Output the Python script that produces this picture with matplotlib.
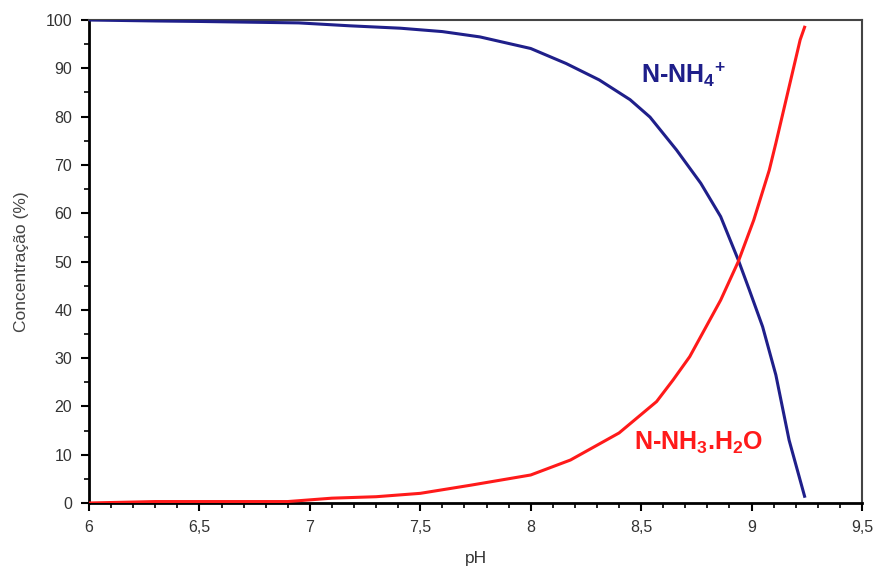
import matplotlib
matplotlib.use("Agg")
import matplotlib.pyplot as plt
from matplotlib.ticker import MultipleLocator, FuncFormatter

# values (pH, % of total ammonia nitrogen)
ph_nh4 = [6.0, 6.3, 6.5, 6.95, 7.18, 7.41, 7.60, 7.77, 8.0, 8.16, 8.31, 8.45,
          8.54, 8.66, 8.77, 8.86, 8.94, 8.99, 9.05, 9.11, 9.17, 9.24]
nh4 = [100, 99.8, 99.7, 99.4, 98.8, 98.3, 97.6, 96.5, 94.1, 91.0, 87.6, 83.5,
       79.9, 73.1, 66.2, 59.3, 50.3, 44.1, 36.5, 26.5, 13.0, 1.4]

ph_nh3 = [6.0, 6.3, 6.9, 7.1, 7.3, 7.5, 7.73, 8.0, 8.18, 8.40, 8.57, 8.645,
          8.72, 8.86, 8.94, 9.01, 9.08, 9.11, 9.22, 9.24]
nh3 = [0, 0.3, 0.3, 1.0, 1.3, 2.0, 3.7, 5.8, 8.9, 14.5, 21.0, 25.5,
       30.3, 42.0, 50.0, 58.6, 68.9, 74.5, 95.9, 98.5]

label_nh4 = "N-NH$_4{}^{+}$"
label_nh3 = "N-NH$_3$.H$_2$O"

plt.rcParams["font.family"] = ["Liberation Sans", "DejaVu Sans"]
plt.rcParams["mathtext.fontset"] = "custom"
plt.rcParams["mathtext.rm"] = "Liberation Sans:bold"
plt.rcParams["mathtext.it"] = "Liberation Sans:bold"
plt.rcParams["mathtext.bf"] = "Liberation Sans:bold"

fig = plt.figure(figsize=(8.75, 5.76), dpi=100)
ax = fig.add_axes([89 / 875, 1 - 503 / 576, (862 - 89) / 875, (503 - 20) / 576])

blue = "#1f1f8a"
red = "#ff1a1a"
ax.plot(ph_nh4, nh4, color=blue, lw=2.2, zorder=3)
ax.plot(ph_nh3, nh3, color=red, lw=2.2, zorder=3)

ax.text(8.69, 88.6, label_nh4, color=blue, fontsize=18, fontweight="bold",
        ha="center", va="center")
ax.text(8.76, 12.4, label_nh3, color=red, fontsize=18, fontweight="bold",
        ha="center", va="center")

ax.set_xlim(6, 9.5)
ax.set_ylim(0, 100)
ax.xaxis.set_major_locator(MultipleLocator(0.5))
ax.xaxis.set_minor_locator(MultipleLocator(0.1))
ax.yaxis.set_major_locator(MultipleLocator(10))
ax.yaxis.set_minor_locator(MultipleLocator(5))
ax.xaxis.set_major_formatter(FuncFormatter(lambda v, p: f"{v:g}".replace(".", ",")))

ax.tick_params(which="major", direction="out", length=6, width=1.5,
               labelsize=11.5, labelcolor="#333333", pad=6)
ax.tick_params(which="minor", direction="out", length=3.5, width=1.2)

for side in ("left", "bottom"):
    ax.spines[side].set_linewidth(2.0)
    ax.spines[side].set_color("black")
for side in ("top", "right"):
    ax.spines[side].set_linewidth(1.5)
    ax.spines[side].set_color("#444444")

ax.set_xlabel("pH", fontsize=12.5, color="#333333", labelpad=12)
ax.set_ylabel("Concentração (%)", fontsize=12.5, color="#444444", labelpad=12)

fig.savefig("out.png", dpi=100)
plt.close(fig)
